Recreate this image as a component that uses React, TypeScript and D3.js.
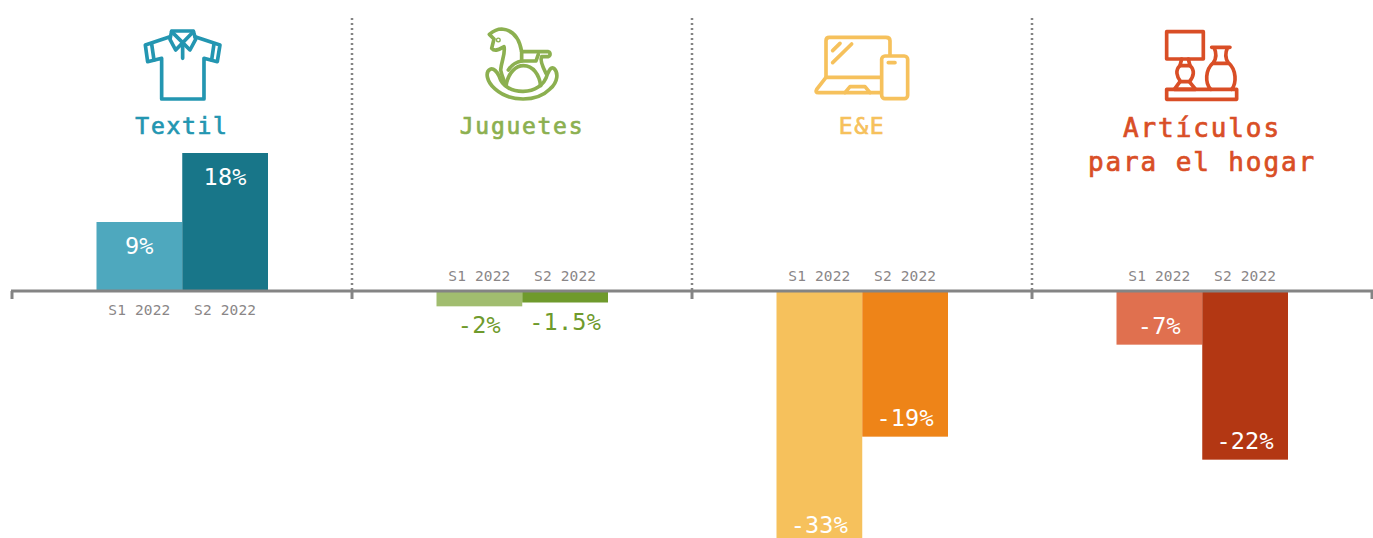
import React from "react";
import * as d3 from "d3";

const categories = ["Textil", "Juguetes", "E&E", "Artículos para el hogar"];
const periods = ["S1 2022", "S2 2022"];
const valuesS1 = [9, -2, -33, -7];
const valuesS2 = [18, -1.5, -19, -22];
const labelsS1 = ["9%", "-2%", "-33%", "-7%"];
const labelsS2 = ["18%", "-1.5%", "-19%", "-22%"];

const coloursS1 = ["#4ea8be", "#a1bd6f", "#f6c15c", "#e0704f"];
const coloursS2 = ["#187689", "#6f9a2c", "#ee8418", "#b33713"];
const titleColours = ["#2396b1", "#8cb050", "#f6c15c", "#d94e26"];

const width = 1373;
const height = 538;
const axisY = 291;
const greyAxis = "#848484";
const mono = "'DejaVu Sans Mono', monospace";

const panel = d3.scaleBand().domain(categories).range([12, 1372]);
const y = d3.scaleLinear().domain([0, 18]).range([axisY, 153]);

function Icon({ i, colour }: { i: number; colour: string }) {
    // icons were traced at 3x, hence the scale
    const common = { fill: "none", stroke: colour, strokeWidth: 11, strokeLinejoin: "round" as const, strokeLinecap: "round" as const };
    if (i === 0) {
        return <g transform="translate(0,10) scale(0.3333)" {...common}>
            <path d="M510 80L436 105L443 155L485 145V267H612V145L652 155L660 105L585 80" />
            <path d="M455 102L462 150M642 102L635 150" />
            <path d="M515 63H580L587 88L570 120L548 98L527 120L510 88Z" />
            <path d="M515 65L548 98L580 65M548 98V145" />
        </g>;
    }
    if (i === 1) {
        return <g transform="translate(440,15) scale(0.3333)" {...common}>
            <path d="M245 110C240 80 225 45 185 42C170 42 160 48 148 58L162 72L155 100C165 112 180 102 192 95C197 115 185 135 182 165C185 180 190 190 195 205" />
            <path d="M150 163C135 172 140 200 165 222C210 262 290 262 330 222C355 200 355 172 342 160C332 155 328 165 322 178C305 245 195 245 178 185C172 170 160 158 150 163Z" />
            <path d="M198 212C205 170 230 152 250 152C280 152 298 180 302 212" />
            <path d="M245 110H325C332 112 332 122 325 125H305C300 135 305 150 318 175" />
            <path d="M245 110V138H288L295 118" />
            <path d="M245 138C232 140 215 150 205 165" />
            <circle cx={175} cy={75} r={2} />
        </g>;
    }
    if (i === 2) {
        return <g transform="translate(800,20) scale(0.3333)" {...common}>
            <path d="M78 170V62Q78 52 88 52H258Q270 52 270 62V105" />
            <path d="M78 172H240M78 172L50 208Q45 218 55 218H240" />
            <path d="M135 218L150 200H195L210 218" />
            <path d="M98 92L120 70M98 128L155 72" />
            <rect x={245} y={108} width={78} height={128} rx={10} />
            <path d="M265 128H285" />
        </g>;
    }
    return <g transform="translate(1080,20) scale(0.3333)" {...common}>
        <rect x={260} y={35} width={110} height={82} />
        <path d="M305 117L300 137H330L325 117" />
        <path d="M300 137C285 150 290 170 302 185H328C342 170 345 150 330 137" />
        <path d="M300 185L283 208H347L328 185" />
        <rect x={260} y={208} width={210} height={30} />
        <path d="M395 82H450M402 82C410 100 410 115 400 128C375 150 375 190 392 208M443 82C435 100 435 115 445 128C470 150 470 190 455 208M400 130H445" />
    </g>;
}

function Title({ i, cat, cx }: { i: number; cat: string; cx: number }) {
    const colour = titleColours[i];
    const style = { fontFamily: mono, fill: colour, stroke: colour, strokeWidth: 0.7, textAnchor: "middle" as const };
    if (i === 3) {
        return <text {...style} fontSize={26} letterSpacing={1.9}>
            <tspan x={cx} y={137}>Artículos</tspan>
            <tspan x={cx} y={171}>para el hogar</tspan>
        </text>;
    }
    return <text {...style} x={cx} y={134} fontSize={23} letterSpacing={1.7}>{cat}</text>;
}

function Panel({ cat, i }: { cat: string; i: number }) {
    const x0 = panel(cat) as number;
    const cx = x0 + panel.bandwidth() / 2;
    const x = d3.scaleBand().domain(periods).range([cx - 85.5, cx + 86]);
    const values = [valuesS1[i], valuesS2[i]];
    const labels = [labelsS1[i], labelsS2[i]];
    const colours = [coloursS1[i], coloursS2[i]];

    return <g>
        <Icon i={i} colour={titleColours[i]} />
        <Title i={i} cat={cat} cx={cx} />
        {periods.map((p, j) => {
            const v = values[j];
            const top = Math.min(y(v), y(0));
            const h = Math.abs(y(v) - y(0));
            const mid = (x(p) as number) + x.bandwidth() / 2;
            const outside = Math.abs(v) < 3;
            let labelY = y(v) + 32;
            if (v < 0) labelY = outside ? y(v) + 27 : y(v) - 11;
            return <g key={p}>
                <rect x={x(p)} y={top} width={x.bandwidth()} height={h} fill={colours[j]} />
                <text x={mid} y={v < 0 ? 281 : 315} textAnchor="middle" fontFamily={mono} fontSize={14.5} letterSpacing={0.15} fill="#8a8687">{p}</text>
                <text x={mid} y={labelY} textAnchor="middle" fontFamily={mono} fontSize={23.5} letterSpacing={0.2} fill={outside ? coloursS2[i] : "#ffffff"}>{labels[j]}</text>
            </g>;
        })}
    </g>;
}

export default function App() {
    const edges = categories.map(c => panel(c) as number).concat([1372]);
    return <svg width={width} height={height} style={{ position: "absolute", left: 0, top: 0 }}>
        {categories.map((c, i) => <Panel key={c} cat={c} i={i} />)}
        {edges.slice(1, 4).map(e => <line key={e} x1={e} x2={e} y1={18} y2={291} stroke={greyAxis} strokeWidth={2.5} strokeDasharray="2 3" />)}
        <line x1={11} x2={1373} y1={axisY} y2={axisY} stroke={greyAxis} strokeWidth={3} />
        {edges.map(e => <line key={e} x1={e} x2={e} y1={axisY} y2={299} stroke={greyAxis} strokeWidth={3} />)}
    </svg>;
}
